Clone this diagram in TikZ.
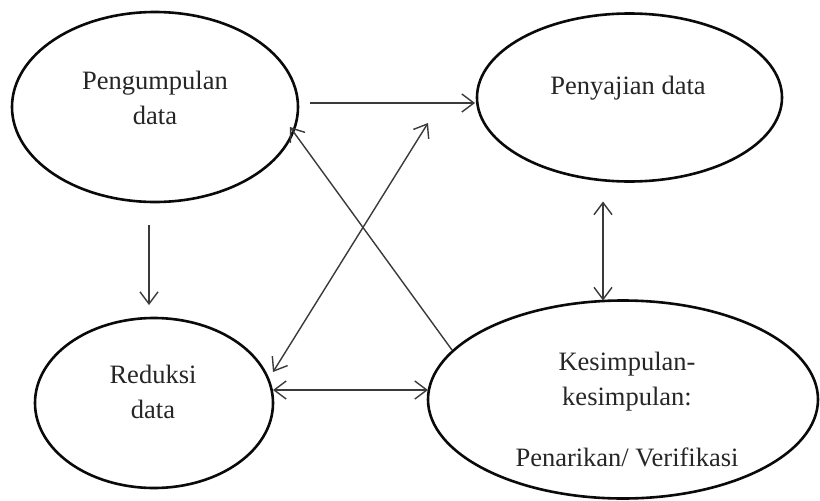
\documentclass[tikz,border=0pt]{standalone}
\usepackage{fontspec}
\setmainfont{Liberation Serif}
\usetikzlibrary{shapes.geometric,arrows.meta}
\definecolor{inkc}{HTML}{0A0A0A}
\definecolor{arrc}{HTML}{3A3A3A}
\definecolor{txtc}{HTML}{262626}
\begin{document}
\begin{tikzpicture}[x=1pt,y=-1pt,
  ell/.style={draw=inkc, line width=2.6pt, ellipse, inner sep=0pt, outer sep=0pt},
  txt/.style={text=txtc, align=center, font=\fontsize{26.5}{35}\selectfont},
  arr/.style={draw=arrc, line width=1.4pt, -{Straight Barb[length=12pt,width=18pt,line width=1.4pt]}},
  darr/.style={draw=arrc, line width=1.4pt, {Straight Barb[length=12pt,width=18pt,line width=1.4pt]}-{Straight Barb[length=12pt,width=18pt,line width=1.4pt]}}]
\useasboundingbox[fill=white] (0,0) rectangle (820,501);
% ellipses
\node[ell, minimum width=286pt, minimum height=190pt] (peng) at (155,107) {};
\node[ell, minimum width=305pt, minimum height=168pt] (peny) at (629.5,97.5) {};
\node[ell, minimum width=238pt, minimum height=170pt] (red) at (154,403) {};
\node[ell, minimum width=390pt, minimum height=198pt] (kes) at (623,399.5) {};
% texts
\node[txt] (tpeng) at (155,98) {Pengumpulan\\data};
\node[txt] (tpeny) at (628,88) {Penyajian data};
\node[txt] (tred) at (153,392) {Reduksi\\data};
\node[txt] (tkes1) at (627,382) {Kesimpulan-\\kesimpulan:};
\node[txt] (tkes2) at (627,457) {Penarikan/ Verifikasi};
% connectors
\draw[arr] ([xshift=12pt,yshift=4pt]peng.east) -- ([xshift=-2pt,yshift=-5.5pt]peny.west);
\draw[arr] ([xshift=-6pt,yshift=-23pt]peng.south) -- ([xshift=-5pt,yshift=13pt]red.north);
\draw[darr] ([xshift=-26.5pt,yshift=-20pt]peny.south) -- ([xshift=-20pt]kes.north);
\draw[darr] ([yshift=13pt]red.east) -- ([yshift=9.5pt]kes.west);
\draw[darr] ([yshift=31pt]red.east) -- ([xshift=-49pt,yshift=-25.5pt]peny.west);
\draw[arr] ([xshift=24pt,yshift=49.5pt]kes.west) -- ([xshift=-8pt,yshift=-20pt]peng.east);
\end{tikzpicture}
\end{document}
